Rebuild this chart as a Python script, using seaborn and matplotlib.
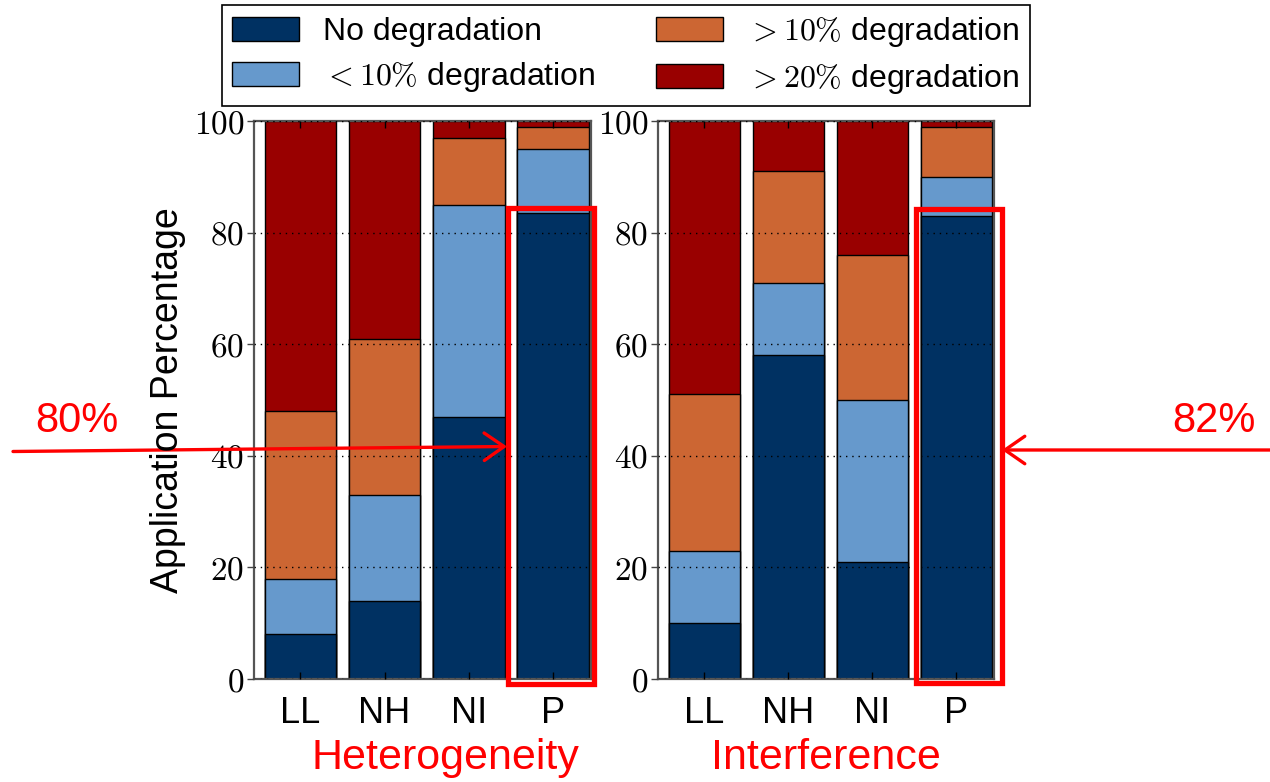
import numpy as np
import pandas as pd
import matplotlib
matplotlib.use("Agg")
import matplotlib.pyplot as plt
import seaborn as sns
from matplotlib.patches import Patch, Rectangle, FancyArrowPatch

# Workload categories on the x axis of each panel
categories = ["LL", "NH", "NI", "P"]
levels = ["No degradation", "<10%", ">10%", ">20%"]
legend_labels = ["No degradation", r"$<10\%$ degradation",
                 r"$>10\%$ degradation", r"$>20\%$ degradation"]

# Share of applications (%) in each degradation band — Heterogeneity
het_none = [8, 14, 47, 83.5]
het_lt10 = [10, 19, 38, 11.5]
het_gt10 = [30, 28, 12, 4]
het_gt20 = [52, 39, 3, 1]

# Share of applications (%) in each degradation band — Interference
int_none = [10, 58, 21, 83]
int_lt10 = [13, 13, 29, 7]
int_gt10 = [28, 20, 26, 9]
int_gt20 = [49, 9, 24, 1]

panel_titles = ["Heterogeneity", "Interference"]
callouts = ["80%", "82%"]

palette = {"No degradation": "#003162", "<10%": "#6699cc",
           ">10%": "#cc6633", ">20%": "#990000"}


def long_frame(none, lt10, gt10, gt20):
    rows = []
    for lev, vals in zip(levels, [none, lt10, gt10, gt20]):
        for cat, v in zip(categories, vals):
            rows.append({"category": cat, "level": lev, "share": v})
    df = pd.DataFrame(rows)
    df["level"] = pd.Categorical(df["level"], categories=levels, ordered=True)
    df = df.sort_values(["category", "level"])
    df["top"] = df.groupby("category")["share"].cumsum()
    return df


frames = [long_frame(het_none, het_lt10, het_gt10, het_gt20),
          long_frame(int_none, int_lt10, int_gt10, int_gt20)]

sns.set_theme(style="white")
plt.rcParams["font.family"] = ["Liberation Sans", "DejaVu Sans"]
plt.rcParams["mathtext.fontset"] = "cm"
for key in ["text.color", "axes.labelcolor", "xtick.color", "ytick.color"]:
    plt.rcParams[key] = "black"

W, H = 1270, 782
fig = plt.figure(figsize=(W / 100, H / 100), dpi=100)


def px_box(x0, y0, x1, y1):
    return [x0 / W, 1 - y1 / H, (x1 - x0) / W, (y1 - y0) / H]


axes = [fig.add_axes(px_box(254, 121, 591, 679)),
        fig.add_axes(px_box(658, 121, 994, 679))]

for ax, df in zip(axes, frames):
    # stacked bars: draw cumulative tops from the highest band downwards
    for lev in reversed(levels):
        sub = df[df["level"] == lev]
        sns.barplot(data=sub, x="category", y="top", order=categories,
                    color=palette[lev], saturation=1, width=0.85,
                    edgecolor="black", linewidth=1.0, errorbar=None, ax=ax)
    ax.set_xlim(-0.55, 3.45)
    ax.set_ylim(0, 100)
    ax.set_xlabel("")
    ax.set_ylabel("")
    yt = [0, 20, 40, 60, 80, 100]
    ax.set_yticks(yt)
    ax.set_yticklabels([f"${v}$" for v in yt], fontsize=24)
    ax.set_xticks(range(len(categories)))
    ax.set_xticklabels(categories, fontsize=26)
    ax.set_axisbelow(False)
    ax.yaxis.grid(True, linestyle=(0, (1, 3.5)), color="black", linewidth=1.0)
    ax.xaxis.grid(False)
    ax.tick_params(axis="x", direction="in", bottom=True, top=True,
                   length=5, width=1, color="black", pad=12)
    ax.tick_params(axis="y", direction="out", left=True, right=False,
                   length=5, width=1, color="#444444", pad=2)
    for s in ax.spines.values():
        s.set_color("#555555")
        s.set_linewidth(1.6)

fig.text(168 / W, 1 - 400 / H, "Application Percentage", rotation=90,
         ha="center", va="center", fontsize=27)

# highlight boxes around the P bars
axes[0].add_patch(Rectangle((2.47, -0.9), 1.02, 85.3, fill=False,
                            edgecolor="red", linewidth=3.8, clip_on=False,
                            zorder=10))
axes[1].add_patch(Rectangle((2.52, -0.7), 1.025, 84.9, fill=False,
                            edgecolor="red", linewidth=3.8, clip_on=False,
                            zorder=10))

arrow_kw = dict(arrowstyle="->,head_length=0.65,head_width=0.45",
                color="red", lw=2.4, mutation_scale=22,
                shrinkA=0, shrinkB=0)


def fig_pt(x, y):
    return (x / W, 1 - y / H)


fig.patches.append(FancyArrowPatch(
    fig_pt(13, 451.5), fig_pt(507, 446.5), transform=fig.transFigure,
    **arrow_kw))
fig.patches.append(FancyArrowPatch(
    fig_pt(1270, 450), fig_pt(1002, 450), transform=fig.transFigure,
    **arrow_kw))

fig.text(*fig_pt(77, 421), callouts[0], color="red", fontsize=30,
         ha="center", va="center")
fig.text(*fig_pt(1214, 421), callouts[1], color="red", fontsize=30,
         ha="center", va="center")
fig.text(*fig_pt(445, 758), panel_titles[0], color="red", fontsize=31,
         ha="center", va="center")
fig.text(*fig_pt(826, 758), panel_titles[1], color="red", fontsize=31,
         ha="center", va="center")

handles = [Patch(facecolor=palette[l], edgecolor="black", linewidth=1.0)
           for l in levels]
leg = fig.legend(handles, legend_labels, ncol=2, loc="upper center",
                 bbox_to_anchor=(626 / W, 1 - 5 / H), fontsize=23,
                 frameon=True, fancybox=False, edgecolor="black",
                 framealpha=1, handlelength=2.1, handleheight=0.75,
                 handletextpad=0.75, columnspacing=1.9, labelspacing=0.4,
                 borderpad=0.32, borderaxespad=0)
leg.get_frame().set_linewidth(1.2)

fig.savefig("out.png", dpi=100)
